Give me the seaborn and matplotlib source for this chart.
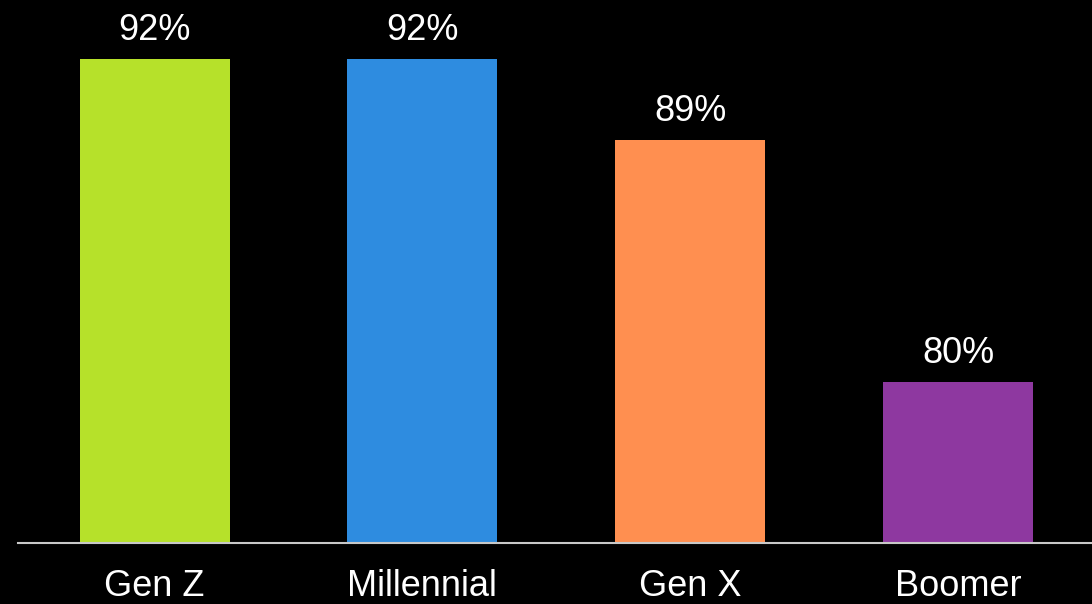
import matplotlib
matplotlib.use("Agg")
import matplotlib.pyplot as plt
import seaborn as sns
import pandas as pd

generations = ["Gen Z", "Millennial", "Gen X", "Boomer"]
shares = [92, 92, 89, 80]
colors = ["#b6e12a", "#2e8ce0", "#ff8f50", "#8e38a0"]

df = pd.DataFrame({"generation": generations, "share": shares})

sns.set_theme(style="dark")
plt.rcParams["font.family"] = ["Liberation Sans", "DejaVu Sans"]

fig = plt.figure(figsize=(10.92, 6.04), dpi=100, facecolor="black")
ax = fig.add_axes([18 / 1092, 61 / 604, 1074 / 1092, 543 / 604])
ax.set_facecolor("black")

sns.barplot(data=df, x="generation", y="share", hue="generation",
            palette=colors, legend=False, width=0.56, ax=ax, saturation=1,
            linewidth=0, edgecolor="none")

for container in ax.containers:
    ax.bar_label(container, fmt="%d%%", padding=8, color="white", fontsize=26)

ax.set_ylim(74, 94.2)
ax.set_xlim(-0.51, 3.50)
ax.set_xlabel("")
ax.set_ylabel("")
ax.set_yticks([])
ax.tick_params(axis="x", length=0, pad=19, labelsize=26, labelcolor="white")
ax.grid(False)
for side in ["top", "right", "left"]:
    ax.spines[side].set_visible(False)
ax.spines["bottom"].set_visible(True)
ax.spines["bottom"].set_color("#c8c8c8")
ax.spines["bottom"].set_linewidth(1.5)

fig.savefig("out.png", dpi=100, facecolor="black")
